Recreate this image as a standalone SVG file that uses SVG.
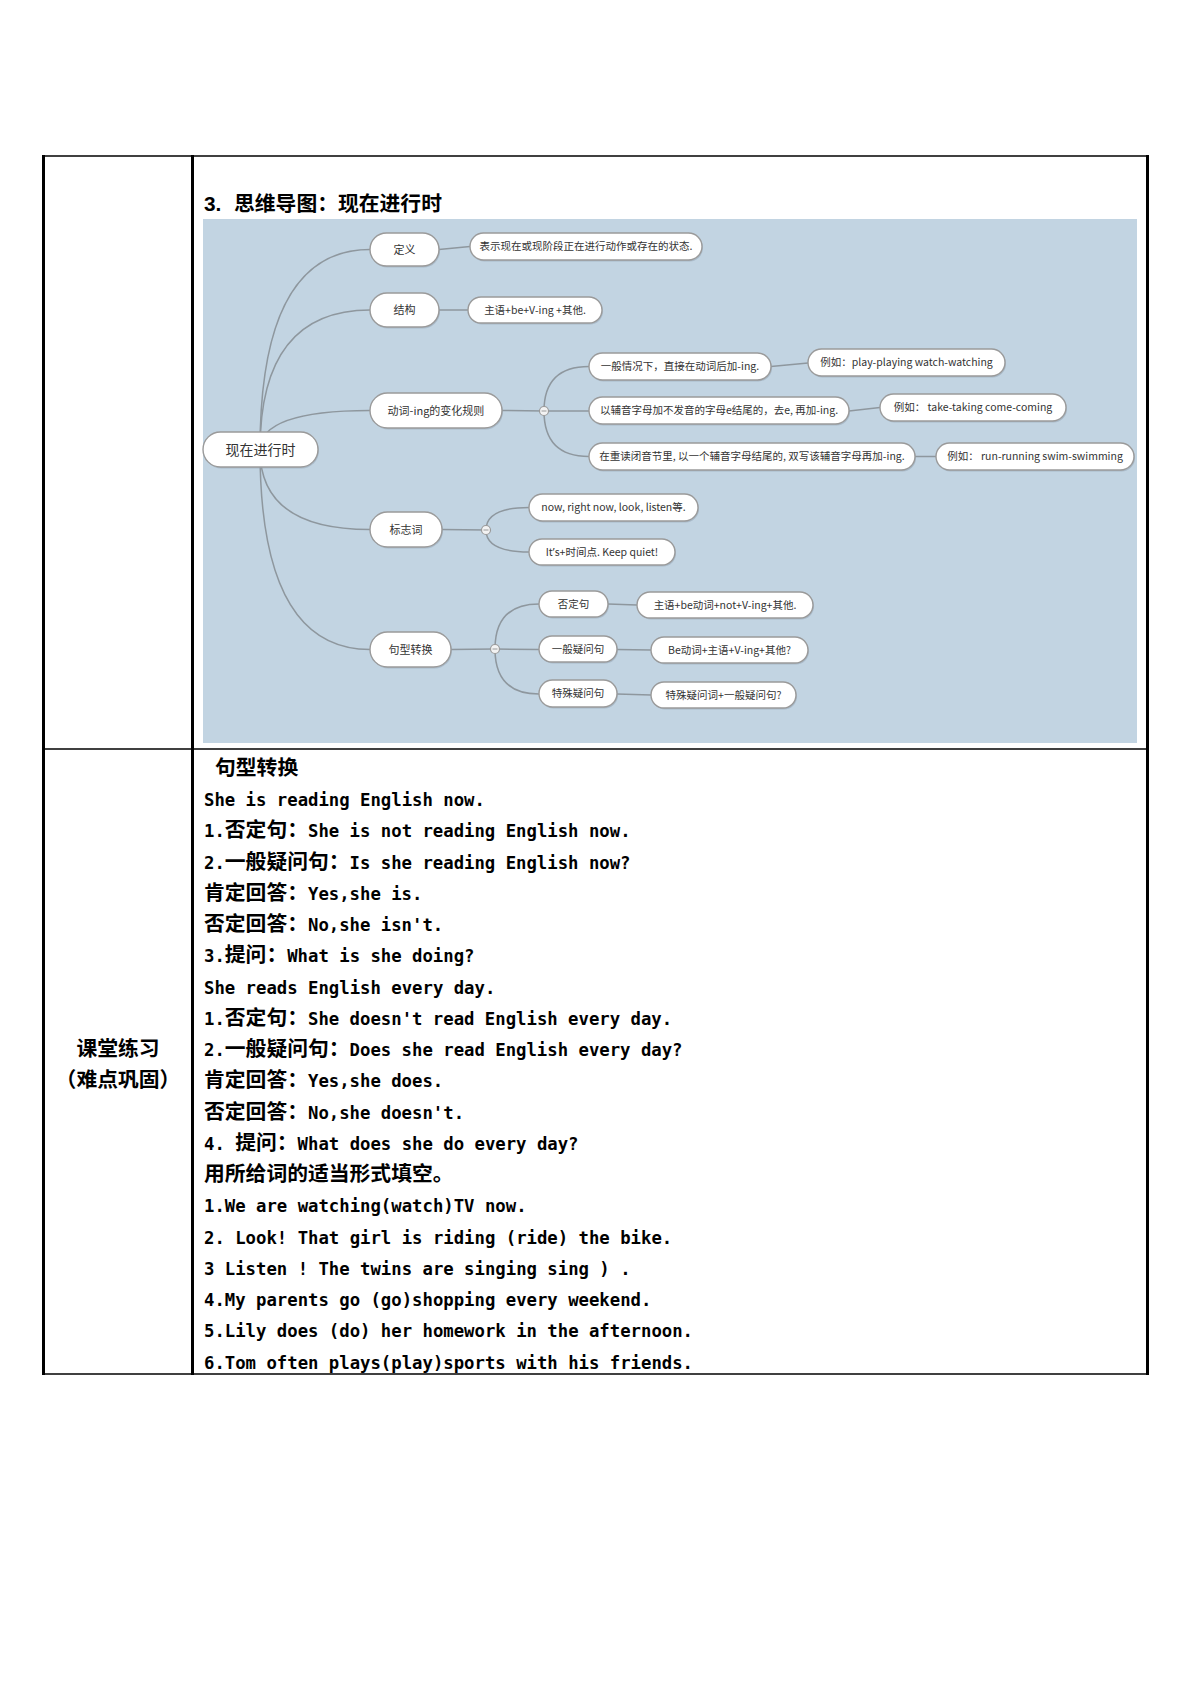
<svg xmlns="http://www.w3.org/2000/svg" width="1191" height="1684" viewBox="0 0 1191 1684">
<style>
.pill{fill:#fff;stroke:#9a9a9a;stroke-width:1.4}
.sh{fill:#8c9cab;opacity:.45}
.conn{fill:none;stroke:#8e979e;stroke-width:1.5}
.dot{fill:#f3f3f3;stroke:#9a9a9a;stroke-width:1.2}
.mm{font-family:"Noto Sans CJK SC","Noto Sans",sans-serif;font-size:10.5px;fill:#333;text-anchor:middle}
.l1{font-size:11px}
.rt{font-size:14px}
.lat{font-family:"DejaVu Sans Mono",monospace;font-size:17.3px;font-weight:bold;fill:#000;white-space:pre}
.cjk{font-family:"Noto Sans CJK SC",sans-serif;font-size:20.8px;font-weight:bold}
.hd{font-family:"Noto Sans CJK SC",sans-serif;font-size:20.8px;font-weight:bold;fill:#000}
.tl{stroke:#000;fill:none}
</style>
<rect width="1191" height="1684" fill="#fff"/>
<g id="table">
<line class="tl" x1="42" y1="156" x2="1149" y2="156" stroke-width="1.5"/>
<line class="tl" x1="42" y1="749" x2="1149" y2="749" stroke-width="1.5"/>
<line class="tl" x1="42" y1="1374" x2="1149" y2="1374" stroke-width="1.5"/>
<line class="tl" x1="43.5" y1="155" x2="43.5" y2="1375" stroke-width="3"/>
<line class="tl" x1="192.5" y1="155" x2="192.5" y2="1375" stroke-width="3"/>
<line class="tl" x1="1147.5" y1="155" x2="1147.5" y2="1375" stroke-width="3"/>
</g>
<text class="hd" x="204" y="211"><tspan font-family="Liberation Sans">3.</tspan><tspan x="234">思维导图：现在进行时</tspan></text>
<rect id="mindmap-bg" x="203" y="219" width="934" height="524" fill="#c2d4e2"/>
<g id="connectors">
<path class="conn" d="M260,450 Q260,249.5 370,249.5"/>
<path class="conn" d="M260,450 Q260,310 370,310"/>
<path class="conn" d="M260,450 Q260,410.5 370,410.5"/>
<path class="conn" d="M260,450 Q260,529.5 370,529.5"/>
<path class="conn" d="M260,450 Q260,649.5 370,649.5"/>
<path class="conn" d="M439,249.5 L470,246.5"/>
<path class="conn" d="M439,310 L468,310"/>
<path class="conn" d="M502,410.5 L544,411"/>
<path class="conn" d="M544,411 Q544,366.5 589,366.5"/>
<path class="conn" d="M544,411 L589,411"/>
<path class="conn" d="M544,411 Q544,456.5 589,456.5"/>
<path class="conn" d="M442,529.5 L486,530"/>
<path class="conn" d="M486,530 Q486,507.5 529,507.5"/>
<path class="conn" d="M486,530 Q486,552 529,552"/>
<path class="conn" d="M451,649.5 L495,649"/>
<path class="conn" d="M495,649 Q495,604 539,604"/>
<path class="conn" d="M495,649 L539,649.5"/>
<path class="conn" d="M495,649 Q495,694 539,694"/>
<path class="conn" d="M771,366.5 L808,363"/>
<path class="conn" d="M849,411 L880,407.5"/>
<path class="conn" d="M915,456.5 L936,456.5"/>
<path class="conn" d="M608,604 L637,605"/>
<path class="conn" d="M617,649.5 L651,650"/>
<path class="conn" d="M617,694 L651,695"/>
<g id="collapse-dots">
<circle class="dot" cx="544" cy="411" r="4.5"/><line x1="541.5" y1="411" x2="546.5" y2="411" stroke="#9a9a9a"/>
<circle class="dot" cx="486" cy="530" r="4.5"/><line x1="483.5" y1="530" x2="488.5" y2="530" stroke="#9a9a9a"/>
<circle class="dot" cx="495" cy="649" r="4.5"/><line x1="492.5" y1="649" x2="497.5" y2="649" stroke="#9a9a9a"/>
</g>
</g>
<g id="n-root"><rect class="sh" x="204" y="433.5" width="115" height="35" rx="17.5"/><rect class="pill" x="203" y="432" width="115" height="35" rx="17.5"/><text class="mm rt" x="260.5" y="454.5">现在进行时</text></g>
<g id="n-def"><rect class="sh" x="371" y="234.5" width="69" height="33" rx="16.5"/><rect class="pill" x="370" y="233" width="69" height="33" rx="16.5"/><text class="mm l1" x="404.5" y="253.5">定义</text></g>
<g id="n-struct"><rect class="sh" x="371" y="294.5" width="69" height="34" rx="17"/><rect class="pill" x="370" y="293" width="69" height="34" rx="17"/><text class="mm l1" x="404.5" y="314">结构</text></g>
<g id="n-ing"><rect class="sh" x="371" y="394.5" width="132" height="35" rx="17.5"/><rect class="pill" x="370" y="393" width="132" height="35" rx="17.5"/><text class="mm l1" x="436" y="414.5">动词-ing的变化规则</text></g>
<g id="n-sign"><rect class="sh" x="371" y="513.5" width="72" height="35" rx="17.5"/><rect class="pill" x="370" y="512" width="72" height="35" rx="17.5"/><text class="mm l1" x="406" y="533.5">标志词</text></g>
<g id="n-trans"><rect class="sh" x="371" y="633.5" width="81" height="35" rx="17.5"/><rect class="pill" x="370" y="632" width="81" height="35" rx="17.5"/><text class="mm l1" x="410.5" y="653.5">句型转换</text></g>
<g id="n-def-text"><rect class="sh" x="471" y="234.5" width="232" height="27" rx="13.5"/><rect class="pill" x="470" y="233" width="232" height="27" rx="13.5"/><text class="mm" x="586" y="250.3">表示现在或现阶段正在进行动作或存在的状态.</text></g>
<g id="n-struct-text"><rect class="sh" x="469" y="298.5" width="134" height="26" rx="13"/><rect class="pill" x="468" y="297" width="134" height="26" rx="13"/><text class="mm" x="535" y="313.8">主语+be+V-ing +其他.</text></g>
<g id="n-rule1"><rect class="sh" x="590" y="354.5" width="182" height="27" rx="13.5"/><rect class="pill" x="589" y="353" width="182" height="27" rx="13.5"/><text class="mm" x="680" y="370.3">一般情况下，直接在动词后加-ing.</text></g>
<g id="n-rule2"><rect class="sh" x="590" y="398.5" width="260" height="27" rx="13.5"/><rect class="pill" x="589" y="397" width="260" height="27" rx="13.5"/><text class="mm" x="719" y="414.3">以辅音字母加不发音的字母e结尾的，去e, 再加-ing.</text></g>
<g id="n-rule3"><rect class="sh" x="590" y="444.5" width="326" height="27" rx="13.5"/><rect class="pill" x="589" y="443" width="326" height="27" rx="13.5"/><text class="mm" x="752" y="460.3">在重读闭音节里, 以一个辅音字母结尾的, 双写该辅音字母再加-ing.</text></g>
<g id="n-ex1"><rect class="sh" x="809" y="350.5" width="197" height="27" rx="13.5"/><rect class="pill" x="808" y="349" width="197" height="27" rx="13.5"/><text class="mm" x="906.5" y="366.3">例如：play-playing watch-watching</text></g>
<g id="n-ex2"><rect class="sh" x="881" y="395.5" width="186" height="27" rx="13.5"/><rect class="pill" x="880" y="394" width="186" height="27" rx="13.5"/><text class="mm" x="973" y="411.3">例如： take-taking come-coming</text></g>
<g id="n-ex3"><rect class="sh" x="937" y="444.5" width="198" height="27" rx="13.5"/><rect class="pill" x="936" y="443" width="198" height="27" rx="13.5"/><text class="mm" x="1035" y="460.3">例如： run-running swim-swimming</text></g>
<g id="n-sign1"><rect class="sh" x="530" y="495.5" width="169" height="27" rx="13.5"/><rect class="pill" x="529" y="494" width="169" height="27" rx="13.5"/><text class="mm" x="613.5" y="511.3">now, right now, look, listen等.</text></g>
<g id="n-sign2"><rect class="sh" x="530" y="540.5" width="146" height="26" rx="13"/><rect class="pill" x="529" y="539" width="146" height="26" rx="13"/><text class="mm" x="602" y="555.8">It<tspan font-family="Noto Sans">’</tspan>s+时间点. Keep quiet!</text></g>
<g id="n-neg"><rect class="sh" x="540" y="592.5" width="69" height="26" rx="13"/><rect class="pill" x="539" y="591" width="69" height="26" rx="13"/><text class="mm" x="573.5" y="607.8">否定句</text></g>
<g id="n-yn"><rect class="sh" x="540" y="637.5" width="78" height="26" rx="13"/><rect class="pill" x="539" y="636" width="78" height="26" rx="13"/><text class="mm" x="578" y="652.8">一般疑问句</text></g>
<g id="n-wh"><rect class="sh" x="540" y="681.5" width="78" height="27" rx="13.5"/><rect class="pill" x="539" y="680" width="78" height="27" rx="13.5"/><text class="mm" x="578" y="697.3">特殊疑问句</text></g>
<g id="n-neg-f"><rect class="sh" x="638" y="593.5" width="176" height="26" rx="13"/><rect class="pill" x="637" y="592" width="176" height="26" rx="13"/><text class="mm" x="725" y="608.8">主语+be动词+not+V-ing+其他.</text></g>
<g id="n-yn-f"><rect class="sh" x="652" y="638.5" width="157" height="26" rx="13"/><rect class="pill" x="651" y="637" width="157" height="26" rx="13"/><text class="mm" x="729.5" y="653.8">Be动词+主语+V-ing+其他?</text></g>
<g id="n-wh-f"><rect class="sh" x="652" y="683.5" width="145" height="26" rx="13"/><rect class="pill" x="651" y="682" width="145" height="26" rx="13"/><text class="mm" x="723.5" y="698.8">特殊疑问词+一般疑问句?</text></g>
<g id="left-label">
<text class="hd" x="118" y="1056" text-anchor="middle">课堂练习</text>
<text class="hd" x="118" y="1087" text-anchor="middle">（难点巩固）</text>
</g>
<g id="exercise">
<text class="hd" x="215" y="775">句型转换</text>
<text class="lat" x="204" y="806">She is reading English now.</text>
<text class="lat" x="204" y="837.25">1.<tspan class="cjk">否定句：</tspan>She is not reading English now.</text>
<text class="lat" x="204" y="868.5">2.<tspan class="cjk">一般疑问句：</tspan>Is she reading English now?</text>
<text class="lat" x="204" y="899.75"><tspan class="cjk">肯定回答：</tspan>Yes,she is.</text>
<text class="lat" x="204" y="931"><tspan class="cjk">否定回答：</tspan>No,she isn't.</text>
<text class="lat" x="204" y="962.25">3.<tspan class="cjk">提问：</tspan>What is she doing?</text>
<text class="lat" x="204" y="993.5">She reads English every day.</text>
<text class="lat" x="204" y="1024.75">1.<tspan class="cjk">否定句：</tspan>She doesn't read English every day.</text>
<text class="lat" x="204" y="1056">2.<tspan class="cjk">一般疑问句：</tspan>Does she read English every day?</text>
<text class="lat" x="204" y="1087.25"><tspan class="cjk">肯定回答：</tspan>Yes,she does.</text>
<text class="lat" x="204" y="1118.5"><tspan class="cjk">否定回答：</tspan>No,she doesn't.</text>
<text class="lat" x="204" y="1149.75">4. <tspan class="cjk">提问：</tspan>What does she do every day?</text>
<text class="hd" x="204" y="1181">用所给词的适当形式填空。</text>
<text class="lat" x="204" y="1212.25">1.We are watching(watch)TV now.</text>
<text class="lat" x="204" y="1243.5">2. Look! That girl is riding (ride) the bike.</text>
<text class="lat" x="204" y="1274.75">3 Listen ! The twins are singing sing ) .</text>
<text class="lat" x="204" y="1306">4.My parents go (go)shopping every weekend.</text>
<text class="lat" x="204" y="1337.25">5.Lily does (do) her homework in the afternoon.</text>
<text class="lat" x="204" y="1368.5">6.Tom often plays(play)sports with his friends.</text>
</g>
</svg>
